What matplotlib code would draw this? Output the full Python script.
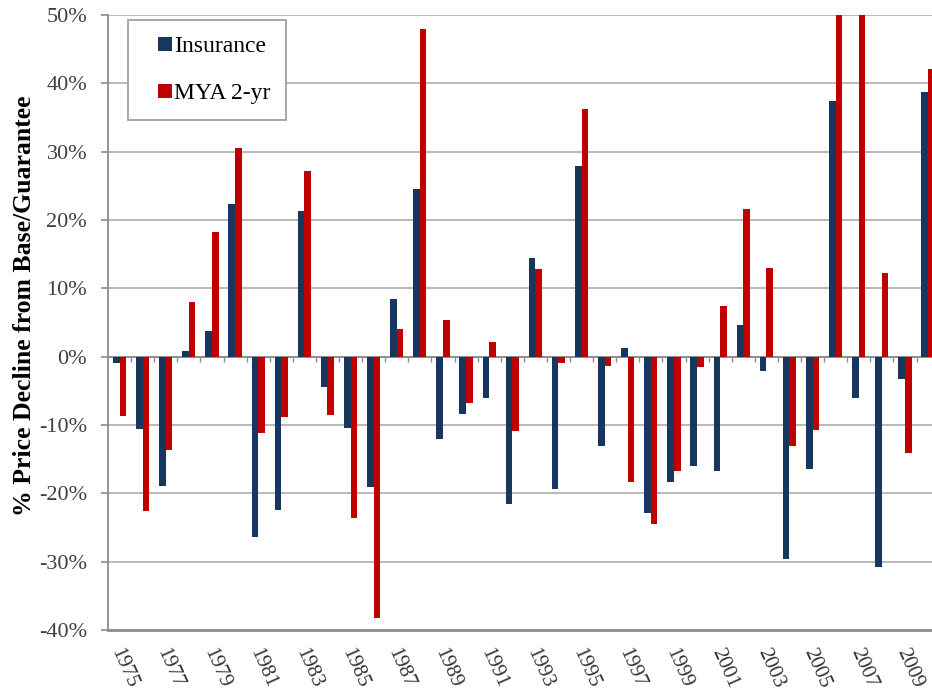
import numpy as np
import matplotlib
matplotlib.use('Agg')
import matplotlib.pyplot as plt
from matplotlib.lines import Line2D
from matplotlib.transforms import ScaledTranslation

# values (percent)
years = list(range(1975, 2011))
insurance = [-0.9, -10.6, -18.9, 0.8, 3.7, 22.3, -26.4, -22.4, 21.3, -4.4,
             -10.5, -19.1, 8.5, 24.5, -12.1, -8.4, -6.0, -21.6, 14.4, -19.4,
             27.9, -13.0, 1.2, -22.9, -18.3, -16.0, -16.7, 4.6, -2.1, -29.6,
             -16.5, 37.4, -6.0, -30.8, -3.3, 38.7]
mya_2yr = [-8.7, -22.6, -13.7, 8.0, 18.2, 30.5, -11.1, -8.9, 27.2, -8.6,
           -23.6, -38.2, 4.1, 47.9, 5.3, -6.8, 2.2, -10.9, 12.8, -1.0,
           36.3, -1.4, -18.3, -24.5, -16.7, -1.5, 7.4, 21.6, 13.0, -13.0,
           -10.7, 55.0, 60.0, 12.2, -14.1, 42.1]
series_names = ['Insurance', 'MYA 2-yr']
ytick_values = list(range(-40, 51, 10))

NAVY = '#17375E'
RED = '#C00000'
GRID = '#B3B3B3'
AXIS = '#8C8C8C'
SERIF = ['Liberation Serif', 'DejaVu Serif']

fig = plt.figure(figsize=(9.32, 6.93), dpi=100)
ax = fig.add_axes([108 / 932, 1 - 630 / 693, 824 / 932, 615 / 693])

x = np.arange(len(years))
w = 1 / 3.5
ax.bar(x - w / 2, insurance, width=w, color=NAVY, zorder=3)
ax.bar(x + w / 2, mya_2yr, width=w, color=RED, zorder=3)

ax.set_ylim(-40, 50)
ax.set_xlim(-0.5, -0.5 + 824 / 23.1)

# gridlines + zero axis line with small ticks between categories
for v in ytick_values:
    if v == -40:
        continue
    ax.axhline(v, color=GRID, lw=1.3, zorder=1)
ax.axhline(0, color=AXIS, lw=1.3, zorder=2)
ax.vlines(x[:-1] + 0.5, -0.8, 0, color=AXIS, lw=1.0, zorder=2)

for s in ['top', 'right']:
    ax.spines[s].set_visible(False)
ax.spines['left'].set_color(AXIS)
ax.spines['left'].set_linewidth(1.3)
ax.spines['bottom'].set_color(AXIS)
ax.spines['bottom'].set_linewidth(2.0)

ax.set_yticks(ytick_values)
ax.set_yticklabels([f'{v}%' for v in ytick_values], family=SERIF,
                   fontsize=16, color='#404040')
ax.tick_params(axis='y', length=5, width=1.2, color=AXIS, pad=10)

ax.set_xticks(x[::2])
ax.set_xticklabels([str(y) for y in years[::2]], family=SERIF, fontsize=15,
                   color='#333333', rotation=-66, ha='left', va='center',
                   rotation_mode='anchor')
ax.tick_params(axis='x', length=0, pad=14)
shift = ScaledTranslation(-4 / 100, 0, fig.dpi_scale_trans)
for lab in ax.get_xticklabels():
    lab.set_transform(lab.get_transform() + shift)

ax.set_ylabel('% Price Decline from Base/Guarantee', family=SERIF,
              fontsize=18.5, fontweight='bold')
ax.yaxis.set_label_coords(-0.087, 0.528)

handles = [Line2D([], [], ls='none', marker='s', markersize=9.4,
                  markerfacecolor=c, markeredgewidth=0) for c in (NAVY, RED)]
leg = fig.legend(handles, series_names, loc='upper left',
                 bbox_to_anchor=(128 / 932, 1 - 20 / 693), borderaxespad=0,
                 prop={'family': SERIF, 'size': 17},
                 handlelength=1.8, handletextpad=-0.5,
                 labelspacing=1.1, borderpad=0.65, fancybox=False,
                 edgecolor='#A0A0A0', framealpha=1)
leg.get_frame().set_linewidth(1.3)

fig.savefig('out.png', dpi=100, facecolor='white')
